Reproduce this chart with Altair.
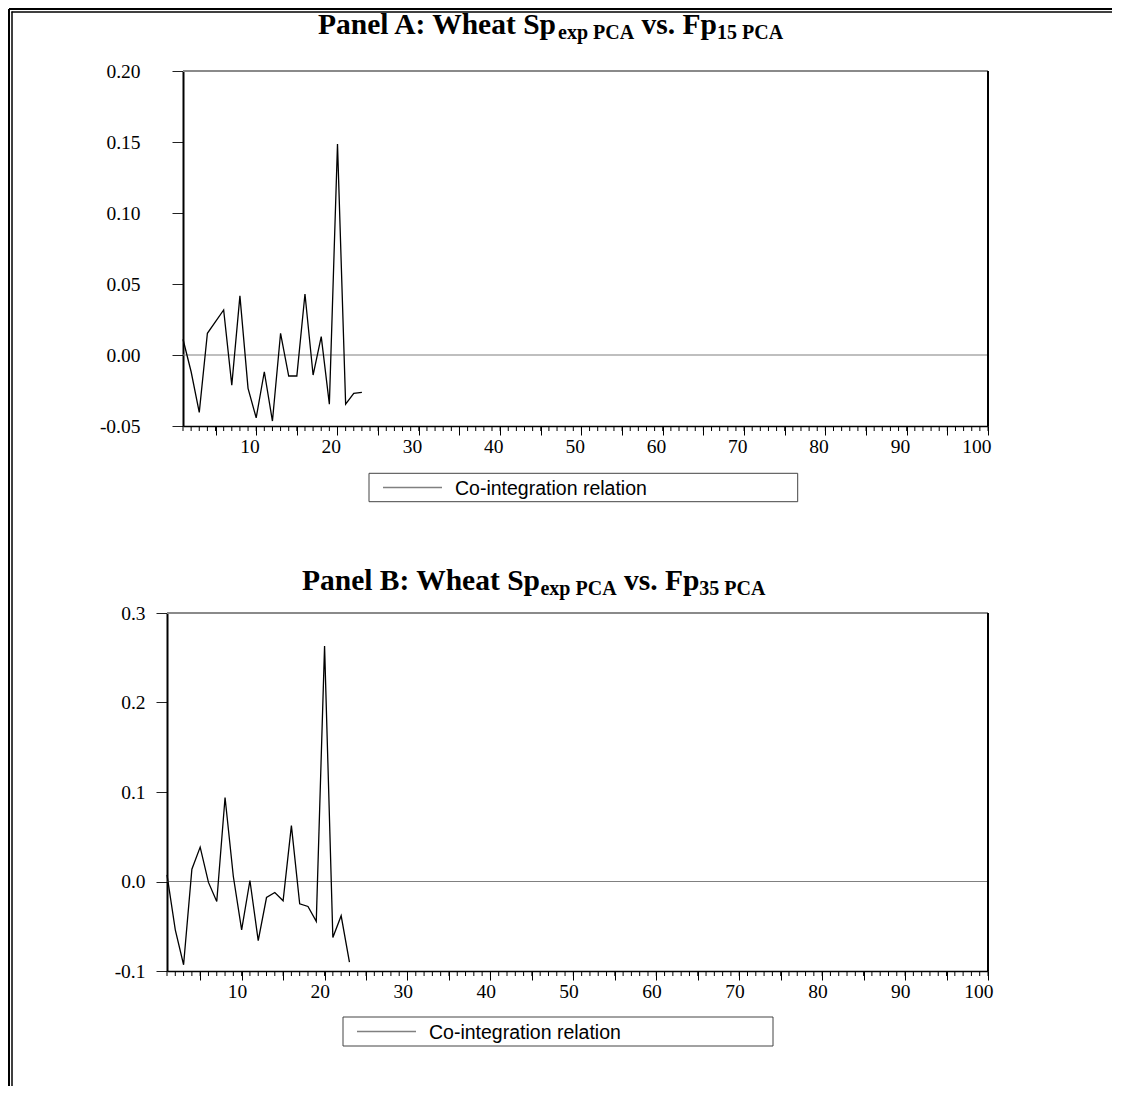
import altair as alt
import pandas as pd

# ---------------- data ----------------
obs_a = list(range(1, 24))
coint_a = [0.0111, -0.0118, -0.0404, 0.0153, 0.0235, 0.0317, -0.0212, 0.0416, -0.0235, -0.0442,
           -0.0118, -0.0465, 0.0153, -0.0148, -0.0148, 0.0430, -0.0141, 0.0129, -0.0346, 0.1486,
           -0.0346, -0.0270, -0.0263]
obs_b = list(range(1, 24))
coint_b = [0.0075, -0.0540, -0.0930, 0.0138, 0.0384, -0.0010, -0.0223, 0.0938, 0.0056, -0.0540,
           0.0011, -0.0660, -0.0179, -0.0123, -0.0215, 0.0625, -0.0249, -0.0279, -0.0446, 0.2630,
           -0.0625, -0.0383, -0.0900]
yticks_a = [-0.05, 0.00, 0.05, 0.10, 0.15, 0.20]
yticks_b = [-0.1, 0.0, 0.1, 0.2, 0.3]
xmajor = list(range(5, 101, 5))
xminor = list(range(1, 101))
legend_label = "Co-integration relation"
title_a = ["Panel A: Wheat Sp", "exp PCA", " vs. Fp", "15 PCA"]
title_b = ["Panel B: Wheat Sp", "exp PCA", " vs. Fp", "35 PCA"]

SERIF = "Liberation Serif"
SANS = "Liberation Sans"
one = pd.DataFrame({"d": [0]})

# Times-Bold advance widths (per 1000 em) for laying out title pieces
TB = {" ": 250, "P": 611, "a": 500, "n": 556, "e": 444, "l": 278, "A": 722, ":": 333,
      "W": 1000, "h": 556, "t": 333, "S": 556, "p": 556, "x": 500, "C": 722, "v": 500,
      "s": 389, ".": 250, "F": 611, "1": 500, "5": 500, "3": 500, "B": 667}

GX = 167  # page x of both panel groups' left edge


def tw(s, size):
    return sum(TB.get(c, 500) for c in s) * size / 1000.0


def title_layers(parts, x0, base, big=29.5, small=20, drop=5):
    layers = []
    x = x0
    for i, p in enumerate(parts):
        size = big if i % 2 == 0 else small
        yy = base if i % 2 == 0 else base + drop
        lead = len(p) - len(p.lstrip(" "))
        x += tw(" " * lead, size)
        txt = p.strip(" ")
        layers.append(
            alt.Chart(one).mark_text(align="left", baseline="alphabetic", font=SERIF,
                                     fontSize=size, fontWeight="bold", color="black")
            .encode(x=alt.value(x), y=alt.value(yy), text=alt.value(txt))
        )
        x += tw(txt, size)
    return layers


def legend_layers(bx0, bx1, by0, by1):
    ym = (by0 + by1) / 2
    box = alt.Chart(one).mark_rect(fill="white", stroke="#444444", strokeWidth=1).encode(
        x=alt.value(bx0), x2=alt.value(bx1), y=alt.value(by0), y2=alt.value(by1))
    sample = alt.Chart(one).mark_rule(color="#808080", strokeWidth=1.5).encode(
        x=alt.value(bx0 + 14), x2=alt.value(bx0 + 73), y=alt.value(ym))
    label = alt.Chart(one).mark_text(align="left", baseline="middle", font=SANS, fontSize=19.5,
                                     color="black").encode(
        x=alt.value(bx0 + 86), y=alt.value(ym + 1), text=alt.value(legend_label))
    return [box, sample, label]


def panel(obs, vals, top_page, left_page, right_page, H, ydom, yvals, yfmt, ylabpad,
          title_parts, title_x, title_base, leg, labdx, extra=None):
    off = left_page - GX
    W = right_page - GX
    xs = alt.Scale(domain=[1, 100], nice=False, zero=False, range=[off, W])
    ys = alt.Scale(domain=ydom, nice=False, zero=False)
    xaxis = alt.Axis(values=xmajor, tickSize=9, tickColor="black", tickWidth=1,
                     domainColor="black", domainWidth=1.5,
                     labelExpr="datum.value % 10 == 0 ? datum.label : ''",
                     labelAlign="right", labelOffset=labdx, labelPadding=2,
                     labelFont=SERIF, labelFontSize=19.5, labelColor="black",
                     grid=False, title=None)
    yaxis = alt.Axis(values=yvals, format=yfmt, labelExpr="replace(datum.label, '\u2212', '-')",
                     tickSize=11, tickColor="#222222", tickWidth=1, offset=-off,
                     domainColor="black", domainWidth=2, labelPadding=ylabpad,
                     labelFont=SERIF, labelFontSize=19.5, labelColor="black",
                     labelBaseline="middle", grid=False, title=None)
    df = pd.DataFrame({"obs": obs, "v": vals})
    line = alt.Chart(df).mark_line(color="black", strokeWidth=1.3).encode(
        x=alt.X("obs:Q", scale=xs, axis=xaxis),
        y=alt.Y("v:Q", scale=ys, axis=yaxis))
    zero = alt.Chart(pd.DataFrame({"v": [0.0]})).mark_rule(color="#808080", strokeWidth=1.2).encode(
        x=alt.value(off), x2=alt.value(W), y=alt.Y("v:Q", scale=ys, axis=yaxis))
    top = alt.Chart(one).mark_rule(color="#8a8a8a", strokeWidth=2).encode(
        x=alt.value(off), x2=alt.value(W), y=alt.value(0))
    right = alt.Chart(one).mark_rule(color="black", strokeWidth=2).encode(
        x=alt.value(W), y=alt.value(0), y2=alt.value(H))
    minor = alt.Chart(pd.DataFrame({"obs": xminor})).mark_rule(color="black", strokeWidth=1).encode(
        x=alt.X("obs:Q", scale=xs, axis=xaxis), y=alt.value(H), y2=alt.value(H + 5))
    layers = [zero, top, right, line, minor]
    layers += title_layers(title_parts, title_x - GX, title_base - top_page)
    bx0, bx1, by0, by1 = leg
    layers += legend_layers(bx0 - GX, bx1 - GX, by0 - top_page, by1 - top_page)
    if extra:
        layers += extra
    return alt.layer(*layers).properties(width=W, height=H)


# page frame (double line on top and left), relative to panel A group origin (167, 71)
def fx(px):
    return px - GX


def fy(py):
    return py - 71


frame = [
    alt.Chart(one).mark_rule(color="black", strokeWidth=2).encode(
        x=alt.value(fx(9)), y=alt.value(fy(9)), y2=alt.value(fy(1086))),
    alt.Chart(one).mark_rule(color="black", strokeWidth=1.5).encode(
        x=alt.value(fx(12)), y=alt.value(fy(11.5)), y2=alt.value(fy(1086))),
    alt.Chart(one).mark_rule(color="black", strokeWidth=2).encode(
        x=alt.value(fx(9)), x2=alt.value(fx(1112)), y=alt.value(fy(9))),
    alt.Chart(one).mark_rule(color="black", strokeWidth=1.5).encode(
        x=alt.value(fx(11.5)), x2=alt.value(fx(1112)), y=alt.value(fy(12))),
]

pa = panel(obs_a, coint_a, 71, 183, 988, 355, [-0.05, 0.20], yticks_a, ".2f", 32,
           title_a, 318, 33.5, (369, 797.7, 473.3, 501.7), 3, extra=frame)
pb = panel(obs_b, coint_b, 613, 167, 988, 358, [-0.1, 0.3], yticks_b, ".1f", 11,
           title_b, 302, 590, (343, 773, 1017, 1046), 5)

chart = alt.vconcat(pa, pb, spacing=187, bounds="flush").properties(
    padding=0, background="white"
).configure_view(stroke=None)

chart.save("out.html", embed_options={"renderer": "svg", "actions": False})
